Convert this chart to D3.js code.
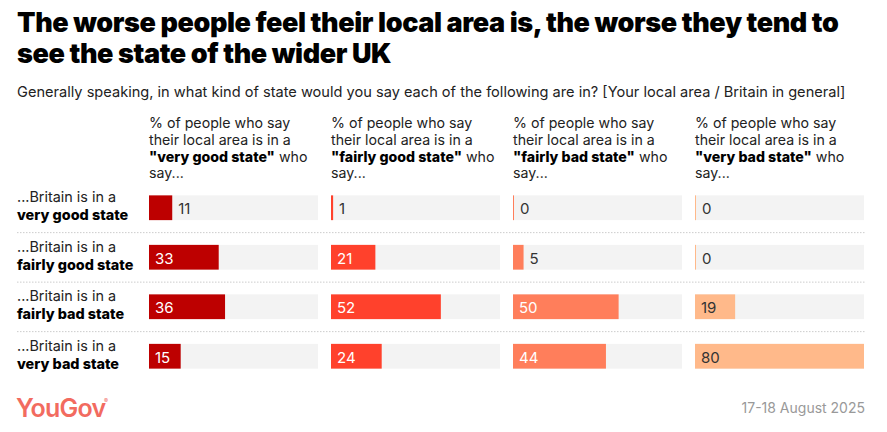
<!DOCTYPE html>
<html>
<head>
<meta charset="utf-8">
<script src="https://cdn.jsdelivr.net/npm/d3@7"></script>
<style>
  body { margin: 0; background: #fff; }
  svg { display: block; font-family: Inter, "Noto Sans", sans-serif; }
</style>
</head>
<body>
<div id="chart"></div>
<script>
var rowLead = "...Britain is in a";
var rowLabels = ["very good state", "fairly good state", "fairly bad state", "very bad state"];
var columnLabels = ["\"very good state\"", "\"fairly good state\"", "\"fairly bad state\"", "\"very bad state\""];
var veryGoodLocal = [11, 33, 36, 15];
var fairlyGoodLocal = [1, 21, 52, 24];
var fairlyBadLocal = [0, 5, 50, 44];
var veryBadLocal = [0, 0, 19, 80];
var colours = ["#bd0000", "#ff412c", "#ff7e5b", "#ffb98a"];
var labelColours = ["#fff", "#fff", "#fff", "#333"];

var columns = [veryGoodLocal, fairlyGoodLocal, fairlyBadLocal, veryBadLocal];

var W = 887, H = 432;
var svg = d3.select("#chart").append("svg")
    .attr("width", W)
    .attr("height", H);

// title + subtitle (two separate lines)
var titleLines = ["The worse people feel their local area is, the worse they tend to",
                  "see the state of the wider UK"];
svg.selectAll("text.title").data(titleLines).enter().append("text")
    .attr("class", "title")
    .attr("x", 17)
    .attr("y", function(d, i) { return 32 + i * 31; })
    .attr("font-size", 27)
    .attr("font-weight", 900)
    .attr("fill", "#000")
    .attr("letter-spacing", -0.4)
    .text(function(d) { return d; });

svg.append("text")
    .attr("x", 17).attr("y", 97)
    .attr("font-size", 14.6)
    .attr("fill", "#222")
    .text("Generally speaking, in what kind of state would you say each of the following are in? [Your local area / Britain in general]");

// layout
var colX = d3.scaleBand().domain(d3.range(4)).range([149, 877]).paddingInner(0).paddingOuter(0);
var trackW = 169;
var x = d3.scaleLinear().domain([0, 80]).range([0, trackW]);
var y = d3.scaleBand().domain(d3.range(4)).range([183, 381]).paddingInner(0.5).paddingOuter(0.25);

// column headers
columnLabels.forEach(function(lab, i) {
    var t = svg.append("text")
        .attr("font-size", 14.2)
        .attr("fill", "#222");
    t.append("tspan").attr("x", colX(i)).attr("y", 128).text("% of people who say");
    t.append("tspan").attr("x", colX(i)).attr("y", 145).text("their local area is in a");
    var l3 = t.append("tspan").attr("x", colX(i)).attr("y", 162);
    l3.append("tspan").attr("font-weight", 800).attr("fill", "#000").text(lab);
    l3.append("tspan").text(" who");
    t.append("tspan").attr("x", colX(i)).attr("y", 178).text("say...");
});

// row labels and separators
rowLabels.forEach(function(lab, r) {
    var yy = y(r);
    var t = svg.append("text").attr("font-size", 14.4).attr("fill", "#222");
    t.append("tspan").attr("x", 17).attr("y", yy + 7).text(rowLead);
    t.append("tspan").attr("x", 17).attr("y", yy + 25)
        .attr("font-weight", 800).attr("fill", "#000").text(lab);
    if (r < rowLabels.length - 1) {
        svg.append("line")
            .attr("x1", 17).attr("x2", 865)
            .attr("y1", yy + y.bandwidth() + 12.5).attr("y2", yy + y.bandwidth() + 12.5)
            .attr("stroke", "#ccc")
            .attr("stroke-dasharray", "1.5,1.5");
    }
});

// bars
columns.forEach(function(vals, c) {
    var g = svg.append("g").attr("transform", "translate(" + colX(c) + ",0)");
    g.selectAll("rect.track").data(vals).enter().append("rect")
        .attr("class", "track")
        .attr("x", 0)
        .attr("y", function(d, i) { return y(i); })
        .attr("width", trackW)
        .attr("height", y.bandwidth())
        .attr("fill", "#f3f3f3");
    g.selectAll("rect.bar").data(vals).enter().append("rect")
        .attr("class", "bar")
        .attr("x", 0)
        .attr("y", function(d, i) { return y(i); })
        .attr("width", function(d) { return Math.max(1, x(d)); })
        .attr("height", y.bandwidth())
        .attr("fill", colours[c]);
    g.selectAll("text.val").data(vals).enter().append("text")
        .attr("class", "val")
        .attr("font-size", 15)
        .attr("dominant-baseline", "central")
        .attr("y", function(d, i) { return y(i) + y.bandwidth() / 2 + 1; })
        .attr("x", function(d) { return d >= 13 ? 6 : Math.max(1, x(d)) + 6; })
        .attr("fill", function(d) { return d >= 13 ? labelColours[c] : "#333"; })
        .text(function(d) { return d; });
});

// footer
svg.append("text")
    .attr("x", 16).attr("y", 417)
    .attr("font-size", 25)
    .attr("font-weight", 600)
    .attr("letter-spacing", -0.8)
    .attr("fill", "#f26b5f")
    .text("YouGov");
svg.append("text")
    .attr("x", 104).attr("y", 403)
    .attr("font-size", 6)
    .attr("fill", "#f26b5f")
    .text("®");
svg.append("text")
    .attr("x", 865).attr("y", 413)
    .attr("text-anchor", "end")
    .attr("font-size", 14)
    .attr("fill", "#999")
    .text("17-18 August 2025");
</script>
</body>
</html>
